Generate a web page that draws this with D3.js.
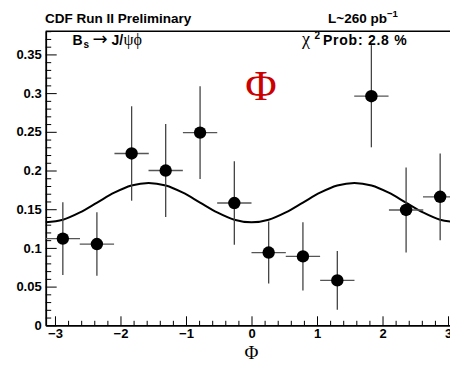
<!DOCTYPE html>
<html><head><meta charset="utf-8">
<script src="https://cdn.jsdelivr.net/npm/d3@7"></script>
<style>body{margin:0;background:#fff;} svg{display:block;}</style>
</head><body><svg id="c" width="450" height="366"></svg>
<script>
// ---- data ----
const binCenters = [-2.88, -2.36, -1.83, -1.31, -0.785, -0.262, 0.262, 0.785, 1.31, 1.83, 2.36, 2.88];
const binHalfWidth = 0.262;
const values = [0.112, 0.105, 0.222, 0.200, 0.249, 0.158, 0.094, 0.089, 0.058, 0.296, 0.149, 0.166];
const errors = [0.047, 0.041, 0.061, 0.060, 0.060, 0.054, 0.040, 0.044, 0.038, 0.066, 0.055, 0.056];
const fitPhi = [-3.1416, -2.8798, -2.618, -2.3562, -2.0944, -1.8326, -1.5708, -1.309, -1.0472, -0.7854, -0.5236, -0.2618, 0,
                0.2618, 0.5236, 0.7854, 1.0472, 1.309, 1.5708, 1.8326, 2.0944, 2.3562, 2.618, 2.8798, 3.1416];
const fitValues = [0.133, 0.1364, 0.1458, 0.1585, 0.1713, 0.1806, 0.184, 0.1806, 0.1713, 0.1585, 0.1458, 0.1364, 0.133,
                   0.1364, 0.1458, 0.1585, 0.1713, 0.1806, 0.184, 0.1806, 0.1713, 0.1585, 0.1458, 0.1364, 0.133];
const xTicks = [-3, -2, -1, 0, 1, 2, 3];
const xTickLabels = ["\u22123", "\u22122", "\u22121", "0", "1", "2", "3"];
const yTicks = [0, 0.05, 0.1, 0.15, 0.2, 0.25, 0.3, 0.35];
const yTickLabels = ["0", "0.05", "0.1", "0.15", "0.2", "0.25", "0.3", "0.35"];

const svg = d3.select("#c");
const x = d3.scaleLinear().domain([-Math.PI, Math.PI]).range([45.7, 457.3]);
const y = d3.scaleLinear().domain([0, 0.38]).range([325.3, 31.2]);
const sans = "'Liberation Sans', Arial, Helvetica, sans-serif";
const serif = "'Liberation Serif', 'Times New Roman', serif";

// frame top / right
svg.append("line").attr("x1", x.range()[0]).attr("x2", x.range()[1]).attr("y1", y.range()[1]).attr("y2", y.range()[1])
  .attr("stroke", "#000").attr("stroke-width", 1.5);
svg.append("line").attr("x1", x.range()[1]).attr("x2", x.range()[1]).attr("y1", y.range()[1]).attr("y2", y.range()[0])
  .attr("stroke", "#000").attr("stroke-width", 1.5);

// minor ticks
const xMinor = d3.range(-3.0, 3.01, 0.2).filter(v => Math.abs(v - Math.round(v)) > 1e-6);
const yMinor = d3.range(0, 0.3805, 0.01).filter(v => Math.abs(v / 0.05 - Math.round(v / 0.05)) > 1e-6);
svg.append("g").attr("transform", `translate(0,${y.range()[0]})`)
  .call(d3.axisBottom(x).tickValues(xMinor).tickFormat("").tickSize(-4.5).tickSizeOuter(0))
  .call(g => g.select(".domain").remove());
svg.append("g").attr("transform", `translate(${x.range()[0]},0)`)
  .call(d3.axisLeft(y).tickValues(yMinor).tickFormat("").tickSize(-5.5).tickSizeOuter(0))
  .call(g => g.select(".domain").remove());

// major axes
const gx = svg.append("g").attr("transform", `translate(0,${y.range()[0]})`)
  .call(d3.axisBottom(x).tickValues(xTicks).tickFormat((d, i) => xTickLabels[i]).tickSize(-9).tickSizeOuter(0).tickPadding(3.5));
const gy = svg.append("g").attr("transform", `translate(${x.range()[0]},0)`)
  .call(d3.axisLeft(y).tickValues(yTicks).tickFormat((d, i) => yTickLabels[i]).tickSize(-11).tickSizeOuter(0).tickPadding(4));
[gx, gy].forEach(g => {
  g.select(".domain").attr("stroke-width", 1.8);
  g.selectAll("text").attr("font-family", sans).attr("font-weight", "bold").attr("font-size", 13).attr("fill", "#000");
});
svg.selectAll(".tick line").attr("stroke", "#000").attr("stroke-width", 1);

// fit curve
const line = d3.line().x((d, i) => x(fitPhi[i])).y(d => y(d)).curve(d3.curveCatmullRom);
svg.append("path").attr("d", line(fitValues)).attr("fill", "none").attr("stroke", "#000").attr("stroke-width", 2);

// data points with error bars
const pts = svg.append("g");
values.forEach((v, i) => {
  pts.append("line").attr("x1", x(binCenters[i] - binHalfWidth)).attr("x2", x(binCenters[i] + binHalfWidth))
    .attr("y1", y(v)).attr("y2", y(v)).attr("stroke", "#555").attr("stroke-width", 1.3);
  pts.append("line").attr("x1", x(binCenters[i])).attr("x2", x(binCenters[i]))
    .attr("y1", y(v - errors[i])).attr("y2", y(v + errors[i])).attr("stroke", "#444").attr("stroke-width", 1.3);
  pts.append("circle").attr("cx", x(binCenters[i])).attr("cy", y(v)).attr("r", 6.2).attr("fill", "#000");
});

// texts
svg.append("text").attr("x", 45).attr("y", 22.5).attr("font-family", sans).attr("font-weight", "bold")
  .attr("font-size", 13.5).text("CDF Run II Preliminary");
const lum = svg.append("text").attr("x", 328).attr("y", 22.5).attr("font-family", sans).attr("font-weight", "bold").attr("font-size", 13.5);
lum.append("tspan").text("L~260 pb");
lum.append("tspan").attr("dy", -6).attr("font-size", 9.5).text("\u22121");

const bs = svg.append("text").attr("y", 44.5).attr("font-family", sans).attr("font-weight", "bold").attr("font-size", 14);
bs.append("tspan").attr("x", 72.5).text("B");
bs.append("tspan").attr("x", 83.5).attr("dy", 3).attr("font-size", 10).text("s");
bs.append("tspan").attr("x", 92.5).attr("dy", -3).attr("font-weight", "normal").attr("font-family", "'DejaVu Sans', sans-serif").attr("font-size", 18).text("\u2192");
bs.append("tspan").attr("x", 111.5).text("J/");
bs.append("tspan").attr("x", 123.5).attr("font-weight", "normal").attr("font-family", serif).attr("font-size", 16).text("\u03c8\u03d5");

const chi = svg.append("text").attr("y", 44.5).attr("font-family", sans).attr("font-weight", "bold").attr("font-size", 14);
chi.append("tspan").attr("x", 302).attr("font-weight", "normal").attr("font-family", serif).attr("font-size", 18).text("\u03c7");
chi.append("tspan").attr("x", 314.5).attr("dy", -6).attr("font-size", 10).text("2");
chi.append("tspan").attr("x", 323).attr("dy", 6).attr("letter-spacing", 0.75).text("Prob: 2.8 %");

svg.append("text").attr("x", 261).attr("y", 99.5).attr("text-anchor", "middle").attr("font-family", serif)
  .attr("font-size", 43).attr("fill", "#cc0000").text("\u03a6");

svg.append("text").attr("x", 251.5).attr("y", 358.5).attr("text-anchor", "middle").attr("font-family", serif)
  .attr("font-size", 19).attr("fill", "#000").text("\u03a6");
</script></body></html>
